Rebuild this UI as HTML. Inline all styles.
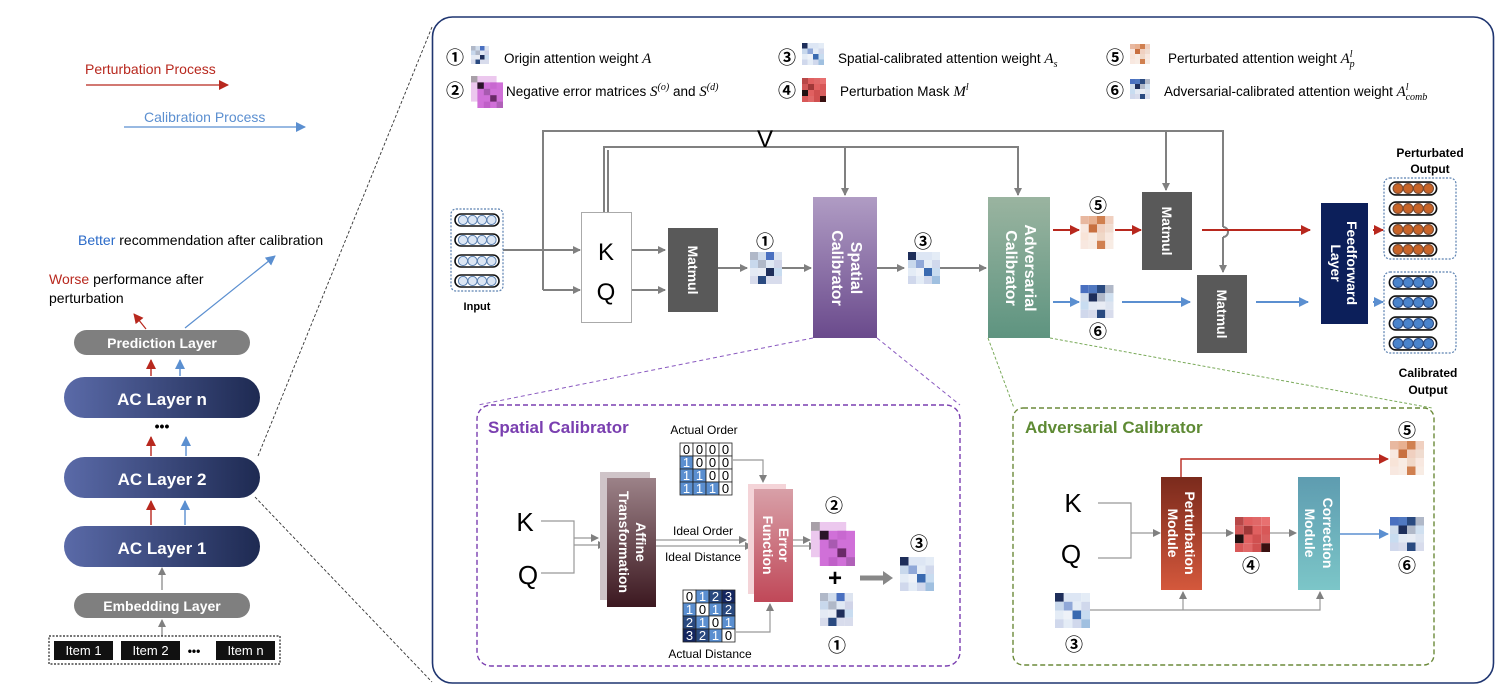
<!DOCTYPE html>
<html><head><meta charset="utf-8"><style>
html,body{margin:0;padding:0;background:#fff;width:1502px;height:696px;overflow:hidden}
svg{display:block;font-family:"Liberation Sans","Noto Sans CJK SC",sans-serif}
.m{font-family:"Liberation Serif",serif;font-style:italic}
.c{font-family:"Noto Sans CJK SC",sans-serif;font-weight:bold}
</style></head><body>
<svg width="1502" height="696" viewBox="0 0 1502 696" xmlns="http://www.w3.org/2000/svg">
<defs>
<marker id="ag" markerWidth="8" markerHeight="8" refX="7" refY="4" orient="auto" markerUnits="userSpaceOnUse"><path d="M0,0 L8,4 L0,8z" fill="#808080"/></marker>
<marker id="ar" markerWidth="10" markerHeight="10" refX="9" refY="5" orient="auto" markerUnits="userSpaceOnUse"><path d="M0,0 L10,5 L0,10z" fill="#b8281e"/></marker>
<marker id="ab" markerWidth="10" markerHeight="10" refX="9" refY="5" orient="auto" markerUnits="userSpaceOnUse"><path d="M0,0 L10,5 L0,10z" fill="#5b8fd0"/></marker>
<linearGradient id="gac" x1="0" x2="1"><stop offset="0" stop-color="#5a6aa8"/><stop offset="1" stop-color="#1e2a52"/></linearGradient>
<linearGradient id="gsp" x1="0" y1="0" x2="0" y2="1"><stop offset="0" stop-color="#b09cc4"/><stop offset="1" stop-color="#6a4a8c"/></linearGradient>
<linearGradient id="gad" x1="0" y1="0" x2="0" y2="1"><stop offset="0" stop-color="#9ab4a0"/><stop offset="1" stop-color="#5e9480"/></linearGradient>
<linearGradient id="gaf" x1="0" y1="0" x2="0" y2="1"><stop offset="0" stop-color="#9c8288"/><stop offset="1" stop-color="#3c1820"/></linearGradient>
<linearGradient id="ger" x1="0" y1="0" x2="0" y2="1"><stop offset="0" stop-color="#d8a0a8"/><stop offset="1" stop-color="#c04858"/></linearGradient>
<linearGradient id="gpm" x1="0" y1="0" x2="0" y2="1"><stop offset="0" stop-color="#7a2a1c"/><stop offset="1" stop-color="#d4583c"/></linearGradient>
<linearGradient id="gcm" x1="0" y1="0" x2="0" y2="1"><stop offset="0" stop-color="#5e9cb0"/><stop offset="1" stop-color="#7cc6c8"/></linearGradient>
<symbol id="hA" viewBox="0 0 40 40"><g>
<rect x="0" y="0" width="10" height="10" fill="#b0b8c8"/><rect x="10" y="0" width="10" height="10" fill="#d0dcec"/><rect x="20" y="0" width="10" height="10" fill="#4a70c0"/><rect x="30" y="0" width="10" height="10" fill="#dde4f0"/>
<rect x="0" y="10" width="10" height="10" fill="#c8d8ec"/><rect x="10" y="10" width="10" height="10" fill="#b0b8c8"/><rect x="20" y="10" width="10" height="10" fill="#e0e8f4"/><rect x="30" y="10" width="10" height="10" fill="#d0d4e8"/>
<rect x="0" y="20" width="10" height="10" fill="#e4eaf4"/><rect x="10" y="20" width="10" height="10" fill="#e8ecf4"/><rect x="20" y="20" width="10" height="10" fill="#1e2e5a"/><rect x="30" y="20" width="10" height="10" fill="#c8dcf0"/>
<rect x="0" y="30" width="10" height="10" fill="#d8dcec"/><rect x="10" y="30" width="10" height="10" fill="#2a4a80"/><rect x="20" y="30" width="10" height="10" fill="#d8dcec"/><rect x="30" y="30" width="10" height="10" fill="#d8dcec"/></g></symbol>
<symbol id="hS" viewBox="0 0 40 40"><g>
<rect x="0" y="0" width="10" height="10" fill="#1e2e5a"/><rect x="10" y="0" width="10" height="10" fill="#dde6f4"/><rect x="20" y="0" width="10" height="10" fill="#dde6f4"/><rect x="30" y="0" width="10" height="10" fill="#e4ecf6"/>
<rect x="0" y="10" width="10" height="10" fill="#c8d8ec"/><rect x="10" y="10" width="10" height="10" fill="#90a8d8"/><rect x="20" y="10" width="10" height="10" fill="#e4ecf6"/><rect x="30" y="10" width="10" height="10" fill="#d0d8ec"/>
<rect x="0" y="20" width="10" height="10" fill="#e4ecf6"/><rect x="10" y="20" width="10" height="10" fill="#eef2f8"/><rect x="20" y="20" width="10" height="10" fill="#3a6ab0"/><rect x="30" y="20" width="10" height="10" fill="#c8dcf0"/>
<rect x="0" y="30" width="10" height="10" fill="#d0d8ec"/><rect x="10" y="30" width="10" height="10" fill="#e4ecf6"/><rect x="20" y="30" width="10" height="10" fill="#d0d8ec"/><rect x="30" y="30" width="10" height="10" fill="#a0c0e0"/></g></symbol>
<symbol id="hP" viewBox="0 0 40 40"><g>
<rect x="0" y="0" width="10" height="10" fill="#e8b8a0"/><rect x="10" y="0" width="10" height="10" fill="#e8b090"/><rect x="20" y="0" width="10" height="10" fill="#d08050"/><rect x="30" y="0" width="10" height="10" fill="#f0d0c0"/>
<rect x="0" y="10" width="10" height="10" fill="#f8e8e0"/><rect x="10" y="10" width="10" height="10" fill="#c87040"/><rect x="20" y="10" width="10" height="10" fill="#f0d0c0"/><rect x="30" y="10" width="10" height="10" fill="#f0dcd0"/>
<rect x="0" y="20" width="10" height="10" fill="#f8e4d8"/><rect x="10" y="20" width="10" height="10" fill="#f8ece4"/><rect x="20" y="20" width="10" height="10" fill="#f0d8c8"/><rect x="30" y="20" width="10" height="10" fill="#f8e8e0"/>
<rect x="0" y="30" width="10" height="10" fill="#f8e8e0"/><rect x="10" y="30" width="10" height="10" fill="#f8ece4"/><rect x="20" y="30" width="10" height="10" fill="#d08050"/><rect x="30" y="30" width="10" height="10" fill="#f8ece4"/></g></symbol>
<symbol id="hC" viewBox="0 0 40 40"><g>
<rect x="0" y="0" width="10" height="10" fill="#4a70c0"/><rect x="10" y="0" width="10" height="10" fill="#5078c0"/><rect x="20" y="0" width="10" height="10" fill="#2a4a80"/><rect x="30" y="0" width="10" height="10" fill="#b0b8c8"/>
<rect x="0" y="10" width="10" height="10" fill="#d0dcec"/><rect x="10" y="10" width="10" height="10" fill="#1e2e5a"/><rect x="20" y="10" width="10" height="10" fill="#b0b8c8"/><rect x="30" y="10" width="10" height="10" fill="#d0e0f0"/>
<rect x="0" y="20" width="10" height="10" fill="#c8dcf0"/><rect x="10" y="20" width="10" height="10" fill="#e4eaf4"/><rect x="20" y="20" width="10" height="10" fill="#e8ecf4"/><rect x="30" y="20" width="10" height="10" fill="#dde4f0"/>
<rect x="0" y="30" width="10" height="10" fill="#d0d8ec"/><rect x="10" y="30" width="10" height="10" fill="#d8dcec"/><rect x="20" y="30" width="10" height="10" fill="#2a4a80"/><rect x="30" y="30" width="10" height="10" fill="#d8dcec"/></g></symbol>
<symbol id="hM" viewBox="0 0 40 40"><g>
<rect x="0" y="0" width="10" height="10" fill="#b84848"/><rect x="10" y="0" width="10" height="10" fill="#e06060"/><rect x="20" y="0" width="10" height="10" fill="#e06868"/><rect x="30" y="0" width="10" height="10" fill="#e87070"/>
<rect x="0" y="10" width="10" height="10" fill="#d05858"/><rect x="10" y="10" width="10" height="10" fill="#a03838"/><rect x="20" y="10" width="10" height="10" fill="#e06060"/><rect x="30" y="10" width="10" height="10" fill="#d85858"/>
<rect x="0" y="20" width="10" height="10" fill="#201010"/><rect x="10" y="20" width="10" height="10" fill="#e06060"/><rect x="20" y="20" width="10" height="10" fill="#d05050"/><rect x="30" y="20" width="10" height="10" fill="#d86060"/>
<rect x="0" y="30" width="10" height="10" fill="#d85858"/><rect x="10" y="30" width="10" height="10" fill="#e06868"/><rect x="20" y="30" width="10" height="10" fill="#d05050"/><rect x="30" y="30" width="10" height="10" fill="#3a1010"/></g></symbol>
<symbol id="hN" viewBox="0 0 50 50"><g>
<rect x="0" y="0" width="40" height="40" fill="#ecc8ee"/><rect x="0" y="0" width="10" height="10" fill="#a8a0a8"/>
<rect x="10" y="10" width="40" height="40" fill="#d070d8"/>
<rect x="10" y="10" width="10" height="10" fill="#2a1428"/><rect x="20" y="20" width="10" height="10" fill="#a85ab0"/><rect x="30" y="30" width="10" height="10" fill="#6a2a68"/><rect x="40" y="40" width="10" height="10" fill="#b060b8"/><rect x="30" y="10" width="10" height="10" fill="#c868d0"/><rect x="20" y="40" width="10" height="10" fill="#c060c8"/></g></symbol>
<symbol id="pw" viewBox="0 0 46 14"><rect x="1" y="1" width="44" height="12" rx="6" fill="#fff" stroke="#111" stroke-width="1.6"/><circle cx="9" cy="7" r="4.6" fill="#dce6f4" stroke="#5a80b0"/><circle cx="18.5" cy="7" r="4.6" fill="#dce6f4" stroke="#5a80b0"/><circle cx="28" cy="7" r="4.6" fill="#dce6f4" stroke="#5a80b0"/><circle cx="37.5" cy="7" r="4.6" fill="#dce6f4" stroke="#5a80b0"/></symbol>
<symbol id="po" viewBox="0 0 46 14"><rect x="1" y="1" width="44" height="12" rx="6" fill="#fff" stroke="#111" stroke-width="1.6"/><circle cx="9" cy="7" r="4.6" fill="#c86428" stroke="#7a4a30"/><circle cx="18.5" cy="7" r="4.6" fill="#c86428" stroke="#7a4a30"/><circle cx="28" cy="7" r="4.6" fill="#c86428" stroke="#7a4a30"/><circle cx="37.5" cy="7" r="4.6" fill="#c86428" stroke="#7a4a30"/></symbol>
<symbol id="pb" viewBox="0 0 46 14"><rect x="1" y="1" width="44" height="12" rx="6" fill="#fff" stroke="#111" stroke-width="1.6"/><circle cx="9" cy="7" r="4.6" fill="#4a84cc" stroke="#2a4a80"/><circle cx="18.5" cy="7" r="4.6" fill="#4a84cc" stroke="#2a4a80"/><circle cx="28" cy="7" r="4.6" fill="#4a84cc" stroke="#2a4a80"/><circle cx="37.5" cy="7" r="4.6" fill="#4a84cc" stroke="#2a4a80"/></symbol>
</defs>

<!-- LEFT PANEL -->
<text x="85" y="74" font-size="14" fill="#b8281e">Perturbation Process</text>
<line x1="86" y1="85" x2="228" y2="85" stroke="#b8281e" stroke-width="1.2" marker-end="url(#ar)"/>
<text x="144" y="122" font-size="14" fill="#5b8fd0">Calibration Process</text>
<line x1="124" y1="127" x2="305" y2="127" stroke="#5b8fd0" stroke-width="1.2" marker-end="url(#ab)"/>
<text x="78" y="245" font-size="14"><tspan fill="#2a6ac8">Better</tspan> recommendation after calibration</text>
<text x="49" y="284" font-size="14"><tspan fill="#b8281e">Worse</tspan> performance after</text>
<text x="49" y="303" font-size="14">perturbation</text>
<line x1="146" y1="329" x2="134" y2="314" stroke="#b8281e" stroke-width="1.2" marker-end="url(#ar)"/>
<line x1="185" y1="328" x2="275" y2="256" stroke="#5b8fd0" stroke-width="1.2" marker-end="url(#ab)"/>
<rect x="74" y="330" width="176" height="25" rx="12.5" fill="#7f7f7f"/>
<text x="162" y="348" font-size="14" font-weight="bold" fill="#fff" text-anchor="middle">Prediction Layer</text>
<line x1="151" y1="376" x2="151" y2="360" stroke="#b8281e" stroke-width="1.4" marker-end="url(#ar)"/>
<line x1="180" y1="376" x2="180" y2="360" stroke="#5b8fd0" stroke-width="1.4" marker-end="url(#ab)"/>
<rect x="64" y="377" width="196" height="41" rx="20.5" fill="url(#gac)"/>
<text x="162" y="405" font-size="17" font-weight="bold" fill="#fff" text-anchor="middle">AC Layer n</text>
<text x="162" y="431" font-size="14" font-weight="bold" text-anchor="middle">•••</text>
<line x1="151" y1="456" x2="151" y2="437" stroke="#b8281e" stroke-width="1.4" marker-end="url(#ar)"/>
<line x1="186" y1="456" x2="186" y2="437" stroke="#5b8fd0" stroke-width="1.4" marker-end="url(#ab)"/>
<rect x="64" y="457" width="196" height="41" rx="20.5" fill="url(#gac)"/>
<text x="162" y="485" font-size="17" font-weight="bold" fill="#fff" text-anchor="middle">AC Layer 2</text>
<line x1="151" y1="525" x2="151" y2="501" stroke="#b8281e" stroke-width="1.4" marker-end="url(#ar)"/>
<line x1="185" y1="525" x2="185" y2="501" stroke="#5b8fd0" stroke-width="1.4" marker-end="url(#ab)"/>
<rect x="64" y="526" width="196" height="41" rx="20.5" fill="url(#gac)"/>
<text x="162" y="554" font-size="17" font-weight="bold" fill="#fff" text-anchor="middle">AC Layer 1</text>
<line x1="162" y1="590" x2="162" y2="568" stroke="#808080" stroke-width="1.2" marker-end="url(#ag)"/>
<rect x="74" y="593" width="176" height="25" rx="12.5" fill="#7f7f7f"/>
<text x="162" y="611" font-size="14" font-weight="bold" fill="#fff" text-anchor="middle">Embedding Layer</text>
<line x1="162" y1="636" x2="162" y2="620" stroke="#808080" stroke-width="1.2" marker-end="url(#ag)"/>
<rect x="49" y="636" width="231" height="28" fill="none" stroke="#222" stroke-width="1.2" stroke-dasharray="2,1.5"/>
<rect x="54" y="641" width="59" height="19" fill="#111"/><text x="83.5" y="655" font-size="13" fill="#fff" text-anchor="middle">Item 1</text>
<rect x="121" y="641" width="59" height="19" fill="#111"/><text x="150.5" y="655" font-size="13" fill="#fff" text-anchor="middle">Item 2</text>
<text x="194" y="655" font-size="12" font-weight="bold" text-anchor="middle">•••</text>
<rect x="216" y="641" width="59" height="19" fill="#111"/><text x="245.5" y="655" font-size="13" fill="#fff" text-anchor="middle">Item n</text>
<line x1="258" y1="456" x2="432" y2="27" stroke="#333" stroke-width="0.9" stroke-dasharray="3,2"/>
<line x1="255" y1="497" x2="432" y2="682" stroke="#333" stroke-width="0.9" stroke-dasharray="3,2"/>

<!-- MAIN BOX -->
<rect x="432.5" y="17" width="1061" height="666" rx="20" fill="#fff" stroke="#1f3570" stroke-width="1.6"/>

<!-- legend -->
<g font-size="13.5">
<text x="446" y="64" font-size="18" class="c">①</text><use href="#hA" x="471" y="43" width="18" height="24"/>
<text x="504" y="63">Origin attention weight <tspan class="m" font-size="15">A</tspan></text>
<text x="446" y="97" font-size="18" class="c">②</text><use href="#hN" x="471" y="76" width="32" height="32"/>
<text x="506" y="96">Negative error matrices <tspan class="m" font-size="15">S</tspan><tspan class="m" font-size="10" dy="-6">(o)</tspan><tspan dy="6"> and </tspan><tspan class="m" font-size="15">S</tspan><tspan class="m" font-size="10" dy="-6">(d)</tspan></text>
<text x="778" y="64" font-size="18" class="c">③</text><use href="#hS" x="802" y="41" width="22" height="26"/>
<text x="838" y="63">Spatial-calibrated attention weight <tspan class="m" font-size="15">A</tspan><tspan class="m" font-size="10" dy="4">s</tspan></text>
<text x="778" y="97" font-size="18" class="c">④</text><use href="#hM" x="802" y="76" width="24" height="28"/>
<text x="840" y="96">Perturbation Mask <tspan class="m" font-size="15">M</tspan><tspan class="m" font-size="10" dy="-6">l</tspan></text>
<text x="1106" y="64" font-size="18" class="c">⑤</text><use href="#hP" x="1130" y="41" width="20" height="26"/>
<text x="1168" y="63">Perturbated attention weight <tspan class="m" font-size="15">A</tspan><tspan class="m" font-size="10" dy="-6">l</tspan><tspan class="m" font-size="10" dx="-3" dy="10">p</tspan></text>
<text x="1106" y="97" font-size="18" class="c">⑥</text><use href="#hC" x="1130" y="76" width="20" height="26"/>
<text x="1164" y="96">Adversarial-calibrated attention weight <tspan class="m" font-size="15">A</tspan><tspan class="m" font-size="10" dy="-6">l</tspan><tspan class="m" font-size="10" dx="-3" dy="10">comb</tspan></text>
</g>

<!-- main flow lines -->
<g fill="none" stroke="#808080" stroke-width="2">
<polyline points="543,290 543,131 1223,131 1223,227"/>
<path d="M1223,227 a5,5 0 0 1 0,10"/>
<polyline points="1223,237 1223,272" marker-end="url(#ag)"/>
<line x1="1166" y1="131" x2="1166" y2="190" marker-end="url(#ag)"/>
<polyline points="604,212 604,147 1018,147 1018,195" marker-end="url(#ag)"/>
<line x1="608" y1="212" x2="608" y2="150"/>
<line x1="845" y1="147" x2="845" y2="195" marker-end="url(#ag)"/>
<line x1="503" y1="250" x2="580" y2="250" marker-end="url(#ag)"/>
<line x1="543" y1="290" x2="580" y2="290" marker-end="url(#ag)"/>
<line x1="632" y1="250" x2="665" y2="250" marker-end="url(#ag)"/>
<line x1="632" y1="290" x2="665" y2="290" marker-end="url(#ag)"/>
<line x1="718" y1="268" x2="747" y2="268" marker-end="url(#ag)"/>
<line x1="782" y1="268" x2="811" y2="268" marker-end="url(#ag)"/>
<line x1="877" y1="268" x2="904" y2="268" marker-end="url(#ag)"/>
<line x1="940" y1="268" x2="986" y2="268" marker-end="url(#ag)"/>
</g>
<text x="765" y="147" font-size="24" text-anchor="middle">V</text>

<!-- input -->
<rect x="451" y="209" width="52" height="82" rx="5" fill="none" stroke="#5a80b0" stroke-width="1.2" stroke-dasharray="2,1.5"/>
<use href="#pw" x="454" y="213" width="46" height="14"/><use href="#pw" x="454" y="233" width="46" height="14"/>
<use href="#pw" x="454" y="254" width="46" height="14"/><use href="#pw" x="454" y="274" width="46" height="14"/>
<text x="477" y="310" font-size="11" font-weight="bold" text-anchor="middle">Input</text>

<rect x="581.5" y="212.5" width="50" height="110" fill="#fff" stroke="#aaa"/>
<text x="606" y="260" font-size="24" text-anchor="middle">K</text>
<text x="606" y="300" font-size="24" text-anchor="middle">Q</text>

<rect x="668" y="228" width="50" height="84" fill="#595959"/>
<text transform="translate(688,270) rotate(90)" font-size="14" font-weight="bold" fill="#fff" text-anchor="middle">Matmul</text>

<text x="765" y="248" font-size="18" text-anchor="middle" class="c">①</text>
<use href="#hA" x="749" y="252" width="34" height="32"/>

<rect x="813" y="197" width="64" height="141" fill="url(#gsp)"/>
<text transform="translate(851,268) rotate(90)" font-size="16" font-weight="bold" fill="#fff" text-anchor="middle">Spatial</text>
<text transform="translate(832,268) rotate(90)" font-size="16" font-weight="bold" fill="#fff" text-anchor="middle">Calibrator</text>

<text x="923" y="248" font-size="18" text-anchor="middle" class="c">③</text>
<use href="#hS" x="907" y="252" width="34" height="32"/>

<rect x="988" y="197" width="62" height="141" fill="url(#gad)"/>
<text transform="translate(1025,268) rotate(90)" font-size="16" font-weight="bold" fill="#fff" text-anchor="middle">Adversarial</text>
<text transform="translate(1006,268) rotate(90)" font-size="16" font-weight="bold" fill="#fff" text-anchor="middle">Calibrator</text>

<text x="1098" y="212" font-size="18" text-anchor="middle" class="c">⑤</text>
<use href="#hP" x="1080" y="216" width="34" height="33"/>
<use href="#hC" x="1080" y="285" width="34" height="33"/>
<text x="1098" y="338" font-size="18" text-anchor="middle" class="c">⑥</text>

<rect x="1142" y="192" width="50" height="78" fill="#595959"/>
<text transform="translate(1162,231) rotate(90)" font-size="14" font-weight="bold" fill="#fff" text-anchor="middle">Matmul</text>
<rect x="1197" y="275" width="50" height="78" fill="#595959"/>
<text transform="translate(1217,314) rotate(90)" font-size="14" font-weight="bold" fill="#fff" text-anchor="middle">Matmul</text>

<g stroke-width="2" fill="none">
<line x1="1053" y1="230" x2="1079" y2="230" stroke="#b8281e" marker-end="url(#ar)"/>
<line x1="1115" y1="230" x2="1141" y2="230" stroke="#b8281e" marker-end="url(#ar)"/>
<line x1="1202" y1="230" x2="1310" y2="230" stroke="#b8281e" marker-end="url(#ar)"/>
<line x1="1373" y1="230" x2="1383" y2="230" stroke="#b8281e" marker-end="url(#ar)"/>
<line x1="1053" y1="302" x2="1079" y2="302" stroke="#5b8fd0" marker-end="url(#ab)"/>
<line x1="1122" y1="302" x2="1190" y2="302" stroke="#5b8fd0" marker-end="url(#ab)"/>
<line x1="1256" y1="302" x2="1308" y2="302" stroke="#5b8fd0" marker-end="url(#ab)"/>
<line x1="1373" y1="302" x2="1383" y2="302" stroke="#5b8fd0" marker-end="url(#ab)"/>
</g>

<rect x="1321" y="203" width="47" height="121" fill="#0c1f5a"/>
<text transform="translate(1347,263) rotate(90)" font-size="14" font-weight="bold" fill="#fff" text-anchor="middle">Feedforward</text>
<text transform="translate(1331,263) rotate(90)" font-size="14" font-weight="bold" fill="#fff" text-anchor="middle">Layer</text>

<text x="1430" y="157" font-size="12" font-weight="bold" text-anchor="middle">Perturbated</text>
<text x="1430" y="173" font-size="12" font-weight="bold" text-anchor="middle">Output</text>
<rect x="1384" y="178" width="72" height="81" rx="6" fill="none" stroke="#5a80b0" stroke-width="1.2" stroke-dasharray="2,1.5"/>
<use href="#po" x="1387" y="181" width="52" height="15"/><use href="#po" x="1387" y="201" width="52" height="15"/>
<use href="#po" x="1387" y="222" width="52" height="15"/><use href="#po" x="1387" y="242" width="52" height="15"/>
<rect x="1384" y="272" width="72" height="81" rx="6" fill="none" stroke="#5a80b0" stroke-width="1.2" stroke-dasharray="2,1.5"/>
<use href="#pb" x="1387" y="275" width="52" height="15"/><use href="#pb" x="1387" y="295" width="52" height="15"/>
<use href="#pb" x="1387" y="316" width="52" height="15"/><use href="#pb" x="1387" y="336" width="52" height="15"/>
<text x="1428" y="377" font-size="12" font-weight="bold" text-anchor="middle">Calibrated</text>
<text x="1428" y="394" font-size="12" font-weight="bold" text-anchor="middle">Output</text>

<!-- zoom connectors -->
<line x1="813" y1="338" x2="478" y2="405" stroke="#8a5ac0" stroke-dasharray="4,3"/>
<line x1="877" y1="338" x2="960" y2="405" stroke="#8a5ac0" stroke-dasharray="4,3"/>
<line x1="988" y1="338" x2="1014" y2="408" stroke="#7aaa5a" stroke-dasharray="3,2"/>
<line x1="1050" y1="338" x2="1432" y2="408" stroke="#7aaa5a" stroke-dasharray="3,2"/>

<!-- SPATIAL CALIBRATOR -->
<rect x="477" y="405" width="483" height="261" rx="14" fill="#fff" stroke="#7a3fb0" stroke-width="1.4" stroke-dasharray="5,3"/>
<text x="488" y="433" font-size="17" font-weight="bold" fill="#7a3fb0">Spatial Calibrator</text>
<text x="704" y="434" font-size="12" text-anchor="middle">Actual Order</text>
<g font-size="13" text-anchor="middle">
<g stroke="#222" stroke-width="0.8">
<rect x="680" y="443" width="13" height="13" fill="#fff"/><rect x="693" y="443" width="13" height="13" fill="#fff"/><rect x="706" y="443" width="13" height="13" fill="#fff"/><rect x="719" y="443" width="13" height="13" fill="#fff"/>
<rect x="680" y="456" width="13" height="13" fill="#5b8fd0"/><rect x="693" y="456" width="13" height="13" fill="#fff"/><rect x="706" y="456" width="13" height="13" fill="#fff"/><rect x="719" y="456" width="13" height="13" fill="#fff"/>
<rect x="680" y="469" width="13" height="13" fill="#5b8fd0"/><rect x="693" y="469" width="13" height="13" fill="#5b8fd0"/><rect x="706" y="469" width="13" height="13" fill="#fff"/><rect x="719" y="469" width="13" height="13" fill="#fff"/>
<rect x="680" y="482" width="13" height="13" fill="#5b8fd0"/><rect x="693" y="482" width="13" height="13" fill="#5b8fd0"/><rect x="706" y="482" width="13" height="13" fill="#5b8fd0"/><rect x="719" y="482" width="13" height="13" fill="#fff"/>
</g>
<text x="686.5" y="454">0</text><text x="699.5" y="454">0</text><text x="712.5" y="454">0</text><text x="725.5" y="454">0</text>
<text x="686.5" y="467" fill="#fff">1</text><text x="699.5" y="467">0</text><text x="712.5" y="467">0</text><text x="725.5" y="467">0</text>
<text x="686.5" y="480" fill="#fff">1</text><text x="699.5" y="480" fill="#fff">1</text><text x="712.5" y="480">0</text><text x="725.5" y="480">0</text>
<text x="686.5" y="493" fill="#fff">1</text><text x="699.5" y="493" fill="#fff">1</text><text x="712.5" y="493" fill="#fff">1</text><text x="725.5" y="493">0</text>
<g stroke="#222" stroke-width="0.8">
<rect x="683" y="590" width="13" height="13" fill="#fff"/><rect x="696" y="590" width="13" height="13" fill="#5b8fd0"/><rect x="709" y="590" width="13" height="13" fill="#2a4a80"/><rect x="722" y="590" width="13" height="13" fill="#142660"/>
<rect x="683" y="603" width="13" height="13" fill="#5b8fd0"/><rect x="696" y="603" width="13" height="13" fill="#fff"/><rect x="709" y="603" width="13" height="13" fill="#5b8fd0"/><rect x="722" y="603" width="13" height="13" fill="#2a4a80"/>
<rect x="683" y="616" width="13" height="13" fill="#2a4a80"/><rect x="696" y="616" width="13" height="13" fill="#5b8fd0"/><rect x="709" y="616" width="13" height="13" fill="#fff"/><rect x="722" y="616" width="13" height="13" fill="#5b8fd0"/>
<rect x="683" y="629" width="13" height="13" fill="#142660"/><rect x="696" y="629" width="13" height="13" fill="#2a4a80"/><rect x="709" y="629" width="13" height="13" fill="#5b8fd0"/><rect x="722" y="629" width="13" height="13" fill="#fff"/>
</g>
<text x="689.5" y="601">0</text><text x="702.5" y="601" fill="#fff">1</text><text x="715.5" y="601" fill="#fff">2</text><text x="728.5" y="601" fill="#fff">3</text>
<text x="689.5" y="614" fill="#fff">1</text><text x="702.5" y="614">0</text><text x="715.5" y="614" fill="#fff">1</text><text x="728.5" y="614" fill="#fff">2</text>
<text x="689.5" y="627" fill="#fff">2</text><text x="702.5" y="627" fill="#fff">1</text><text x="715.5" y="627">0</text><text x="728.5" y="627" fill="#fff">1</text>
<text x="689.5" y="640" fill="#fff">3</text><text x="702.5" y="640" fill="#fff">2</text><text x="715.5" y="640" fill="#fff">1</text><text x="728.5" y="640">0</text>
</g>
<text x="710" y="658" font-size="12" text-anchor="middle">Actual Distance</text>
<text x="525" y="531" font-size="26" text-anchor="middle">K</text>
<text x="528" y="584" font-size="26" text-anchor="middle">Q</text>
<g fill="none" stroke="#999" stroke-width="1.2">
<polyline points="541,521 574,521 574,573 541,573"/>
<line x1="574" y1="538" x2="598" y2="538" marker-end="url(#ag)"/>
<line x1="574" y1="545" x2="605" y2="545" marker-end="url(#ag)"/>
<line x1="656" y1="540" x2="746" y2="540" marker-end="url(#ag)"/>
<line x1="656" y1="546" x2="752" y2="546" marker-end="url(#ag)"/>
<polyline points="733,460 763,460 763,482" marker-end="url(#ag)"/>
<polyline points="736,632 770,632 770,604" marker-end="url(#ag)"/>
<line x1="793" y1="540" x2="810" y2="540" marker-end="url(#ag)"/>
<line x1="793" y1="546" x2="816" y2="546" marker-end="url(#ag)"/>
</g>
<rect x="600" y="472" width="50" height="128" fill="#cfc4c8"/>
<rect x="607" y="478" width="49" height="129" fill="url(#gaf)"/>
<text transform="translate(636,542) rotate(90)" font-size="14" font-weight="bold" fill="#fff" text-anchor="middle">Affine</text>
<text transform="translate(619,542) rotate(90)" font-size="14" font-weight="bold" fill="#fff" text-anchor="middle">Transformation</text>
<text x="703" y="535" font-size="12" text-anchor="middle">Ideal Order</text>
<text x="703" y="561" font-size="12" text-anchor="middle">Ideal Distance</text>
<rect x="748" y="484" width="38" height="110" fill="#f4d4d8"/>
<rect x="754" y="489" width="39" height="113" fill="url(#ger)"/>
<text transform="translate(779,545) rotate(90)" font-size="14" font-weight="bold" fill="#fff" text-anchor="middle">Error</text>
<text transform="translate(763,545) rotate(90)" font-size="14" font-weight="bold" fill="#fff" text-anchor="middle">Function</text>
<text x="834" y="512" font-size="18" text-anchor="middle" class="c">②</text>
<use href="#hN" x="811" y="522" width="44" height="44"/>
<text x="835" y="586" font-size="24" font-weight="bold" text-anchor="middle">+</text>
<use href="#hA" x="820" y="593" width="33" height="33"/>
<text x="837" y="652" font-size="18" text-anchor="middle" class="c">①</text>
<line x1="860" y1="578" x2="885" y2="578" stroke="#888" stroke-width="5"/>
<path d="M883,571 L893,578 L883,585z" fill="#888"/>
<text x="919" y="550" font-size="18" text-anchor="middle" class="c">③</text>
<use href="#hS" x="900" y="557" width="34" height="34"/>

<!-- ADVERSARIAL CALIBRATOR -->
<rect x="1013" y="408" width="421" height="257" rx="10" fill="#fff" stroke="#6b8a3a" stroke-width="1.4" stroke-dasharray="5,3"/>
<text x="1025" y="433" font-size="17" font-weight="bold" fill="#5e8a34">Adversarial Calibrator</text>
<text x="1073" y="512" font-size="26" text-anchor="middle">K</text>
<text x="1071" y="563" font-size="26" text-anchor="middle">Q</text>
<g fill="none" stroke="#999" stroke-width="1.2">
<polyline points="1098,503 1131,503 1131,558 1098,558"/>
<line x1="1131" y1="533" x2="1160" y2="533" marker-end="url(#ag)"/>
<line x1="1202" y1="533" x2="1233" y2="533" marker-end="url(#ag)"/>
<line x1="1270" y1="533" x2="1296" y2="533" marker-end="url(#ag)"/>
<polyline points="1090,610 1320,610 1320,592" marker-end="url(#ag)"/>
<line x1="1183" y1="610" x2="1183" y2="592" marker-end="url(#ag)"/>
</g>
<polyline points="1181,477 1181,459 1388,459" fill="none" stroke="#b8281e" stroke-width="1.4" marker-end="url(#ar)"/>
<line x1="1340" y1="534" x2="1388" y2="534" stroke="#5b8fd0" stroke-width="1.4" marker-end="url(#ab)"/>
<rect x="1161" y="477" width="41" height="113" fill="url(#gpm)"/>
<text transform="translate(1185,533) rotate(90)" font-size="14" font-weight="bold" fill="#fff" text-anchor="middle">Perturbation</text>
<text transform="translate(1168,533) rotate(90)" font-size="14" font-weight="bold" fill="#fff" text-anchor="middle">Module</text>
<use href="#hM" x="1235" y="517" width="35" height="35"/>
<text x="1251" y="572" font-size="18" text-anchor="middle" class="c">④</text>
<rect x="1298" y="477" width="42" height="113" fill="url(#gcm)"/>
<text transform="translate(1323,533) rotate(90)" font-size="14" font-weight="bold" fill="#fff" text-anchor="middle">Correction</text>
<text transform="translate(1305,533) rotate(90)" font-size="14" font-weight="bold" fill="#fff" text-anchor="middle">Module</text>
<text x="1407" y="437" font-size="18" text-anchor="middle" class="c">⑤</text>
<use href="#hP" x="1390" y="441" width="34" height="34"/>
<use href="#hC" x="1390" y="517" width="34" height="34"/>
<text x="1407" y="572" font-size="18" text-anchor="middle" class="c">⑥</text>
<use href="#hS" x="1055" y="593" width="35" height="35"/>
<text x="1074" y="651" font-size="18" text-anchor="middle" class="c">③</text>
</svg>
</body></html>
